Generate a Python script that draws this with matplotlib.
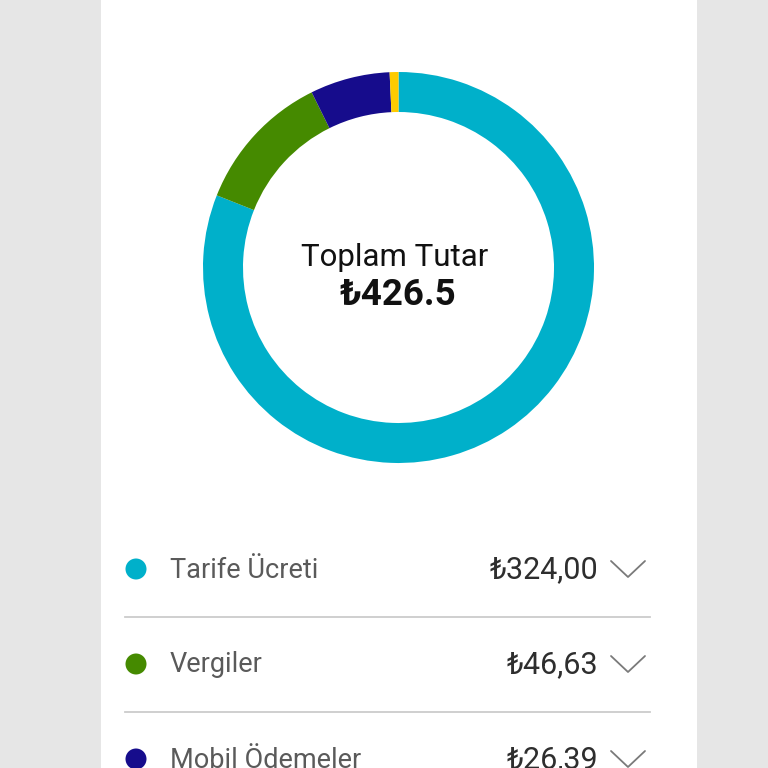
import matplotlib
matplotlib.use("Agg")
import matplotlib.pyplot as plt
from matplotlib.patches import Rectangle, Circle

# bill breakdown
categories = ["Tarife Ücreti", "Vergiler", "Mobil Ödemeler", "Diğer"]
values = [324.00, 46.63, 26.39, 2.9]
value_labels = ["₺324,00", "₺46,63", "₺26,39"]
colors = ["#00B0CA", "#458A00", "#160C8C", "#FECB00"]
total_label = "₺426.5"

W = H = 768
FONT = ["Roboto", "DejaVu Sans"]


def Y(y):
    # pixel row from top -> data y
    return H - y


fig = plt.figure(figsize=(7.68, 7.68), dpi=100)
fig.patch.set_facecolor("#E6E6E6")
ax = fig.add_axes([0, 0, 1, 1])

# white card
ax.add_patch(Rectangle((101, 0), 596, H, facecolor="white", edgecolor="none", zorder=0))

# donut
cx, cy, r = 398.5, Y(267.5), 195.5
ax.pie(values, colors=colors, startangle=90, counterclock=False,
       center=(cx, cy), radius=r, frame=True,
       wedgeprops=dict(width=40, edgecolor="none", linewidth=0))
ax.set_xlim(0, W)
ax.set_ylim(0, H)
ax.set_aspect("equal")
ax.axis("off")

ax.text(394.5, Y(257), "Toplam Tutar", ha="center", va="center",
        fontsize=22.5, color="#111111", family=FONT)
ax.text(398, Y(295), total_label, ha="center", va="center",
        fontsize=26.5, fontweight="bold", color="#111111", family=FONT)

# legend rows
row_y = [570, 665, 760]
for i, y in enumerate(row_y):
    ax.add_patch(Circle((136, Y(y - 1)), 10.5, facecolor=colors[i], edgecolor="none"))
    ax.text(170, Y(y), categories[i], ha="left", va="center",
            fontsize=19.5, color="#5A5A5A", family=FONT)
    ax.text(598, Y(y), value_labels[i], ha="right", va="center",
            fontsize=22, color="#2E2E2E", family=FONT)
    ax.plot([611, 628, 645], [Y(y - 9), Y(y + 7), Y(y - 9)],
            color="#7A7A7A", lw=1.3, solid_capstyle="round")
    if i < len(row_y) - 1:
        ax.plot([125, 650], [Y(y + 47), Y(y + 47)], color="#CCCCCC", lw=1.3)

fig.savefig("out.png", dpi=100, facecolor=fig.get_facecolor())
